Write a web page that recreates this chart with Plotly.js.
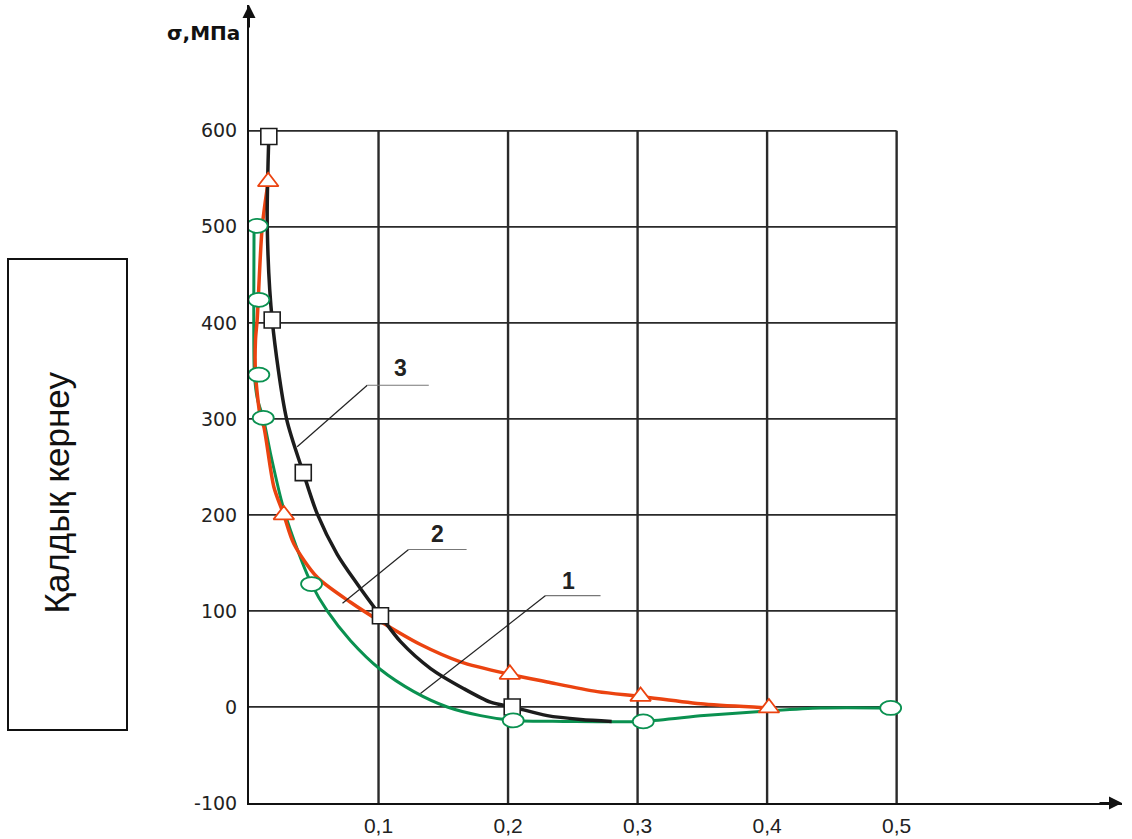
<!DOCTYPE html>
<html>
<head>
<meta charset="utf-8">
<script src="https://cdn.plot.ly/plotly-3.0.1.min.js"></script>
<style>html,body{margin:0;padding:0;background:#fff;}#chart{width:1132px;height:839px;}</style>
</head>
<body>
<div id="chart"></div>
<script>
// ---- data ----
const xTickVals = [0.1, 0.2, 0.3, 0.4, 0.5];
const xTickText = ['0,1', '0,2', '0,3', '0,4', '0,5'];
const yTickVals = [-100, 0, 100, 200, 300, 400, 500, 600];
const yTickText = ['-100', '0', '100', '200', '300', '400', '500', '600'];

// curve 1 (green, ellipses)
const c1LineX = [0.0039, 0.0037, 0.0042, 0.0066, 0.011, 0.0166, 0.0256, 0.032, 0.0483, 0.0604, 0.0784, 0.1015, 0.1273, 0.1531, 0.1788, 0.204, 0.2431, 0.3044, 0.3512, 0.4014, 0.4413, 0.4954];
const c1LineY = [501, 424, 346, 320, 301, 264, 212, 184, 128, 100, 69, 39, 16, 0, -9, -14, -15, -15, -9, -4, -1, -1];
const c1MarkX = [0.0063, 0.0076, 0.0076, 0.011, 0.0483, 0.204, 0.3044, 0.4954];
const c1MarkY = [501, 424, 346, 301, 128, -14, -15, -1];

// curve 2 (red, triangles)
const c2LineX = [0.0148, 0.0102, 0.0063, 0.005, 0.005, 0.0089, 0.0114, 0.0192, 0.0269, 0.0346, 0.0527, 0.0784, 0.1015, 0.1324, 0.1633, 0.2014, 0.2303, 0.2689, 0.3023, 0.3512, 0.4014];
const c2LineY = [547, 500, 403, 382, 348, 301, 292, 229, 200, 170, 135, 109, 89, 65, 47, 34, 26, 16, 11, 3, -1];
const c2MarkX = [0.0148, 0.0269, 0.2014, 0.3023, 0.4014];
const c2MarkY = [547, 200, 34, 11, -1];

// curve 3 (black, squares)
const c3LineX = [0.0153, 0.0141, 0.0179, 0.029, 0.0419, 0.0527, 0.0681, 0.0836, 0.1015, 0.117, 0.1402, 0.1659, 0.1865, 0.2032, 0.2303, 0.256, 0.28];
const c3LineY = [594, 500, 403, 300, 244, 201, 159, 128, 95, 68, 40, 19, 5, 0, -9, -13, -15];
const c3MarkX = [0.0153, 0.0179, 0.0419, 0.1015, 0.2032];
const c3MarkY = [594, 403, 244, 95, 0];

// curve labels and leader lines
const labelText = ['1', '2', '3'];
const labelX = [0.247, 0.1456, 0.117];
const labelY = [131, 180, 353];
const leaderX = [[0.1324, 0.229, 0.2714], [0.0722, 0.1232, 0.168], [0.0372, 0.0913, 0.1388]];
const leaderY = [[14, 116, 116], [108, 164, 164], [271, 335, 335]];

// ---- styles ----
const GREEN = '#0a9150';
const RED = '#eb4310';
const BLACK = '#1c1c1c';
const GRID = '#2a2a2a';

const traces = [
  {x: c1LineX, y: c1LineY, mode: 'lines', line: {color: GREEN, width: 3, shape: 'spline', smoothing: 0.8}, hoverinfo: 'skip'},
  {x: c2LineX, y: c2LineY, mode: 'lines', line: {color: RED, width: 3.5, shape: 'spline', smoothing: 0.8}, hoverinfo: 'skip'},
  {x: c3LineX, y: c3LineY, mode: 'lines', line: {color: BLACK, width: 3.5, shape: 'spline', smoothing: 0.8}, hoverinfo: 'skip'},
  {x: c2MarkX, y: c2MarkY, mode: 'markers', marker: {symbol: 'triangle-up', size: 18, color: '#fff', line: {color: RED, width: 1.8}}, hoverinfo: 'skip'},
  {x: c3MarkX, y: c3MarkY, mode: 'markers', marker: {symbol: 'square', size: 16, color: '#fff', line: {color: BLACK, width: 1.6}}, hoverinfo: 'skip'}
];

const shapes = [];
// grid (vertical and horizontal lines inside 0..0.5, -100..600)
xTickVals.forEach(v => shapes.push({type: 'line', xref: 'x', yref: 'y', x0: v, x1: v, y0: -100, y1: 600, line: {color: GRID, width: 2.4}, layer: 'below'}));
yTickVals.slice(1).forEach(v => shapes.push({type: 'line', xref: 'x', yref: 'y', x0: 0, x1: 0.5, y0: v, y1: v, line: {color: GRID, width: 1.7}, layer: 'below'}));
// leader lines
leaderX.forEach((lx, i) => {
  shapes.push({type: 'line', xref: 'x', yref: 'y', x0: lx[0], y0: leaderY[i][0], x1: lx[1], y1: leaderY[i][1], line: {color: '#222', width: 1.2}});
  shapes.push({type: 'line', xref: 'x', yref: 'y', x0: lx[1], y0: leaderY[i][1], x1: lx[2], y1: leaderY[i][2], line: {color: '#777', width: 1.2}});
});
// ellipse markers of curve 1 (anchored at data points, sized in pixels)
c1MarkX.forEach((mx, i) => shapes.push({
  type: 'circle', xref: 'x', yref: 'y', xsizemode: 'pixel', ysizemode: 'pixel',
  xanchor: mx, yanchor: c1MarkY[i], x0: -10.5, x1: 10.5, y0: -7, y1: 7,
  fillcolor: '#fff', line: {color: GREEN, width: 1.8}, layer: 'above'
}));
// left box
shapes.push({type: 'rect', xref: 'paper', yref: 'paper', x0: (8 - 249) / 873, x1: (127 - 249) / 873, y0: (803 - 730) / 798, y1: (803 - 259) / 798, line: {color: '#111', width: 2}, fillcolor: 'rgba(0,0,0,0)'});

const annotations = [];
labelText.forEach((t, i) => annotations.push({x: labelX[i], y: labelY[i], xref: 'x', yref: 'y', text: '<b>' + t + '</b>', showarrow: false, font: {family: 'Liberation Sans, Arial', size: 23, color: '#222'}}));
// axis arrows
annotations.push({x: 0.674, y: -100, xref: 'x', yref: 'y', ax: -24, ay: 0, text: '', showarrow: true, arrowhead: 2, arrowsize: 1.3, arrowwidth: 2, arrowcolor: '#111', standoff: 0});
annotations.push({x: 0, y: 731, xref: 'x', yref: 'y', ax: 0, ay: 24, text: '', showarrow: true, arrowhead: 2, arrowsize: 1.3, arrowwidth: 2, arrowcolor: '#111', standoff: 0});
// axis unit title
annotations.push({x: 0, y: 702, xref: 'x', yref: 'y', xanchor: 'right', xshift: -7, text: '<b>σ,МПа</b>', showarrow: false, font: {family: 'DejaVu Sans, Arial', size: 20, color: '#111'}});
// left box title
annotations.push({x: (34 - 249) / 873, y: (803 - 493) / 798, xref: 'paper', yref: 'paper', text: 'Қалдық кернеу', textangle: -90, showarrow: false, font: {family: 'Liberation Sans, Arial', size: 35, color: '#111'}});

const layout = {
  width: 1132, height: 839,
  margin: {l: 249, r: 10, t: 5, b: 36},
  paper_bgcolor: '#fff', plot_bgcolor: '#fff',
  showlegend: false,
  xaxis: {range: [0, 0.674], tickvals: xTickVals, ticktext: xTickText, showgrid: false, zeroline: false,
          showline: true, linecolor: '#111', linewidth: 2, ticks: '', ticklabelstandoff: 3,
          tickfont: {family: 'Liberation Sans Narrow, Liberation Sans, Arial', size: 21, color: '#222'}, fixedrange: true},
  yaxis: {range: [-100, 731], tickvals: yTickVals, ticktext: yTickText, showgrid: false, zeroline: false,
          showline: true, linecolor: '#111', linewidth: 2, ticks: '', ticklabelstandoff: 6,
          tickfont: {family: 'DejaVu Sans, Arial', size: 19, color: '#222'}, fixedrange: true},
  shapes: shapes,
  annotations: annotations
};

Plotly.newPlot('chart', traces, layout, {displayModeBar: false, staticPlot: true});
</script>
</body>
</html>
